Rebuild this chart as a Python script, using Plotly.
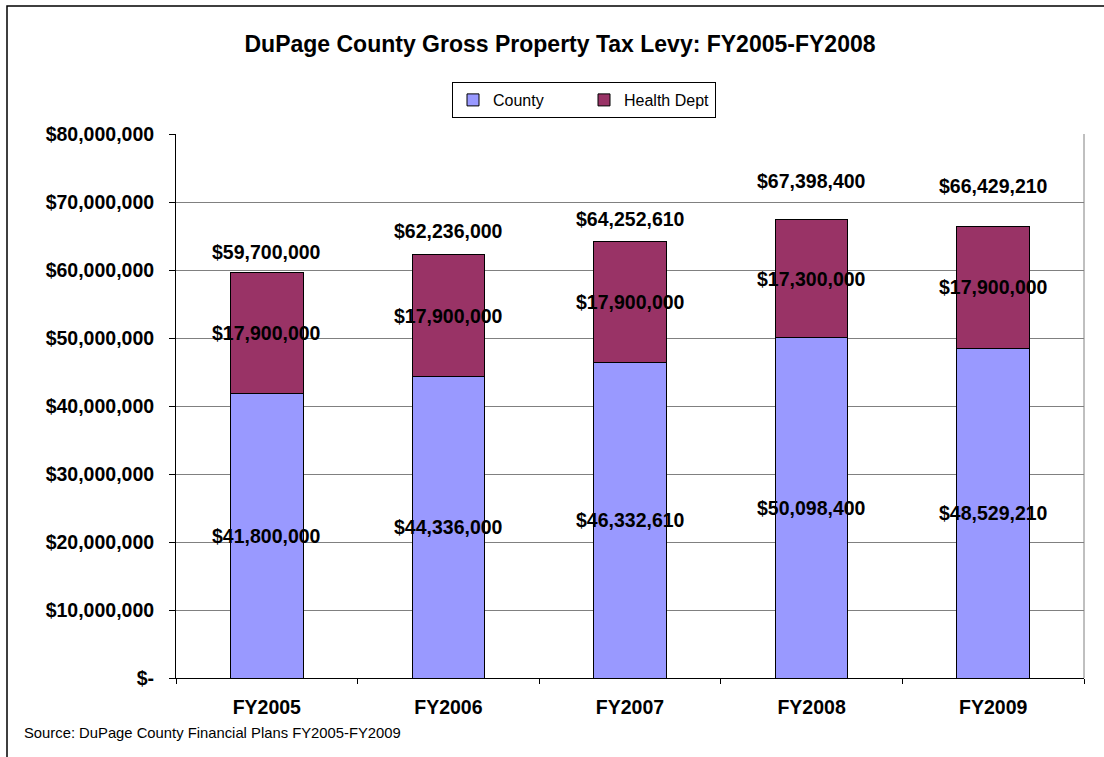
import plotly.graph_objects as go

# ---- data ----
categories = ["FY2005", "FY2006", "FY2007", "FY2008", "FY2009"]
county = [41800000, 44336000, 46332610, 50098400, 48529210]
health = [17900000, 17900000, 17900000, 17300000, 17900000]
totals = [59700000, 62236000, 64252610, 67398400, 66429210]
total_label_shift = [20, 24, 22, 39, 40]
y_tick_values = [0, 10000000, 20000000, 30000000, 40000000,
                 50000000, 60000000, 70000000, 80000000]
y_tick_labels = ["$-", "$10,000,000", "$20,000,000", "$30,000,000", "$40,000,000",
                 "$50,000,000", "$60,000,000", "$70,000,000", "$80,000,000"]

FONT = "Liberation Sans, Arial, Helvetica, sans-serif"
W, H = 1104, 757
L, R, T, B = 176, 20, 134, 79
pw, ph = W - L - R, H - T - B


def money(v):
    return "${:,.0f}".format(v)


fig = go.Figure()
fig.add_trace(go.Bar(x=categories, y=county, name="County", width=0.4,
                     marker=dict(color="#9999FF", line=dict(color="black", width=1)),
                     hoverinfo="skip"))
fig.add_trace(go.Bar(x=categories, y=health, name="Health Dept", width=0.4,
                     marker=dict(color="#993366", line=dict(color="black", width=1)),
                     hoverinfo="skip"))

annotations = []
lab_font = dict(family=FONT, size=19.5, color="black", weight="bold")
for i, c in enumerate(categories):
    annotations.append(dict(x=c, y=county[i] / 2, text=money(county[i]),
                            showarrow=False, font=lab_font, xref="x", yref="y"))
    annotations.append(dict(x=c, y=county[i] + health[i] / 2, text=money(health[i]),
                            showarrow=False, font=lab_font, xref="x", yref="y"))
    annotations.append(dict(x=c, y=county[i] + health[i], text=money(totals[i]),
                            showarrow=False, font=lab_font, xref="x", yref="y",
                            yshift=total_label_shift[i]))

annotations.append(dict(text="Source: DuPage County Financial Plans FY2005-FY2009",
                        xref="paper", yref="paper",
                        x=(22 - L) / pw, y=(H - B - 733) / ph,
                        xanchor="left", yanchor="middle", showarrow=False,
                        font=dict(family=FONT, size=14.8, color="black")))

shapes = [
    # outer chart frame (extends beyond the right and bottom of the picture)
    dict(type="rect", xref="paper", yref="paper",
         x0=(7 - L) / pw, y0=-0.5, x1=1.3, y1=(H - B - 6) / ph,
         line=dict(color="black", width=1.5), fillcolor="rgba(0,0,0,0)", layer="below"),
    # right border of plot area
    dict(type="line", xref="paper", yref="paper", x0=1, x1=1, y0=0, y1=1,
         line=dict(color="#808080", width=1)),
]

fig.update_layout(
    width=W, height=H,
    margin=dict(l=L, r=R, t=T, b=B, autoexpand=False),
    paper_bgcolor="white", plot_bgcolor="white",
    barmode="stack",
    font=dict(family=FONT, color="black"),
    title=dict(text="<b>DuPage County Gross Property Tax Levy: FY2005-FY2008</b>",
               x=560 / W, y=1 - 44 / H, xref="container", yref="container",
               xanchor="center", yanchor="middle",
               font=dict(family=FONT, size=23, color="black")),
    legend=dict(orientation="h", xref="container", yref="container",
                x=452 / W, y=1 - 82 / H, xanchor="left", yanchor="top",
                bordercolor="black", borderwidth=1, bgcolor="white",
                font=dict(family=FONT, size=16, color="black"),
                entrywidth=86, entrywidthmode="pixels",
                traceorder="normal"),
    xaxis=dict(showline=True, linecolor="black", linewidth=1,
               ticks="outside", tickson="boundaries", ticklen=5, tickcolor="black",
               tickfont=dict(family=FONT, size=19.5, color="black", weight="bold"),
               ticklabelstandoff=12, showgrid=False, fixedrange=True),
    yaxis=dict(range=[0, 80000000], tickvals=y_tick_values, ticktext=y_tick_labels,
               showline=True, linecolor="black", linewidth=1,
               ticks="outside", ticklen=6, tickcolor="black",
               showgrid=True, gridcolor="#808080", gridwidth=1, zeroline=False,
               tickfont=dict(family=FONT, size=19.5, color="black", weight="bold"),
               ticklabelstandoff=11, fixedrange=True),
    annotations=annotations,
    shapes=shapes,
    bargap=0.6,
)

fig.write_html("out.html",
               config={"displayModeBar": False, "staticPlot": True},
               post_script="document.body.style.margin='0';document.body.style.padding='0';"
                           "document.documentElement.style.overflow='hidden';")
